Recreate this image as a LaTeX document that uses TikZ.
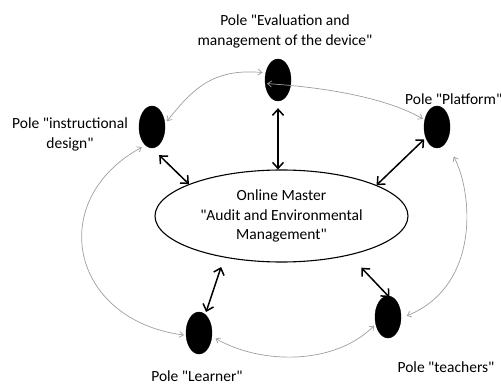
\documentclass[tikz,border=0pt]{standalone}
\usepackage{fontspec}
\setmainfont{Carlito}[Ligatures=TeXOff]
\usetikzlibrary{arrows.meta,shapes.geometric}
\tikzset{
  pole/.style={ellipse, fill=black, draw=black, minimum width=26pt, minimum height=42pt, inner sep=0pt},
  master/.style={ellipse, draw=black, line width=1.1pt, minimum width=253pt, minimum height=92pt,
    inner sep=0pt, align=center, font=\fontsize{15.5}{19.5}\selectfont},
  lbl/.style={align=center, font=\fontsize{15.5}{20}\selectfont, inner sep=0pt},
  link/.style={line width=1.5pt, {Straight Barb[length=6pt,width=11pt]}-{Straight Barb[length=6pt,width=11pt]}},
  loop/.style={draw=black!38, line width=0.7pt, {Straight Barb[length=4pt,width=6pt]}-{Straight Barb[length=4pt,width=6pt]}}
}
\begin{document}
\begin{tikzpicture}[x=1pt, y=-1pt]
\useasboundingbox (0,0) rectangle (501,385);

% central programme
\node[master] (main) at (281.5,216) {Online Master\\"Audit and Environmental\\Management"};

% the five poles
\node[pole] (ev) at (278,80) {};
\node[pole] (ins) at (152,127) {};
\node[pole] (pl) at (437,127) {};
\node[pole] (le) at (199,333) {};
\node[pole] (te) at (388,317) {};

% pole labels
\node[lbl] (evl) at (285,31) {Pole "Evaluation and\\management of the device"};
\node[lbl] (insl) at (70,134) {Pole "instructional\\design"};
\node[lbl, anchor=west] (pll) at (405,99) {Pole "Platform"};
\node[lbl] (lel) at (197,376.5) {Pole "Learner"};
\node[lbl] (tel) at (446,367) {Pole "teachers"};

% exchanges between each pole and the programme
\draw[link, shorten <=7pt] (ev.south) -- (ev.south |- main.north);
\draw[link, shorten <=10pt] (ins.south) -- (main.161);
\draw[link, shorten <=2pt] (pl) -- (main.18);
\draw[link, shorten <=10pt, shorten >=2.5pt] (main.216) -- (le);
\draw[link, shorten <=17pt, shorten >=-2pt] (main.-30) -- (te.north);

% ring of exchanges between neighbouring poles
\draw[loop, shorten <=3pt, shorten >=3pt] (ins.15) .. controls (192,90) and (212,68) .. (ev.150);
\draw[loop, shorten <=2pt, shorten >=2pt] (ev.-165) .. controls (335,88) and (390,100) .. (pl.150);
\draw[loop, shorten <=16pt, shorten >=6pt] (pl.-60) .. controls (472,190) and (482,285) .. (te.-5);
\draw[loop, shorten <=2pt, shorten >=4pt] (te.-150) .. controls (335,365) and (262,365) .. (le.-15);
\draw[loop, shorten <=2pt, shorten >=4pt] (le.190) .. controls (70,320) and (45,200) .. (ins.-110);
\end{tikzpicture}
\end{document}
